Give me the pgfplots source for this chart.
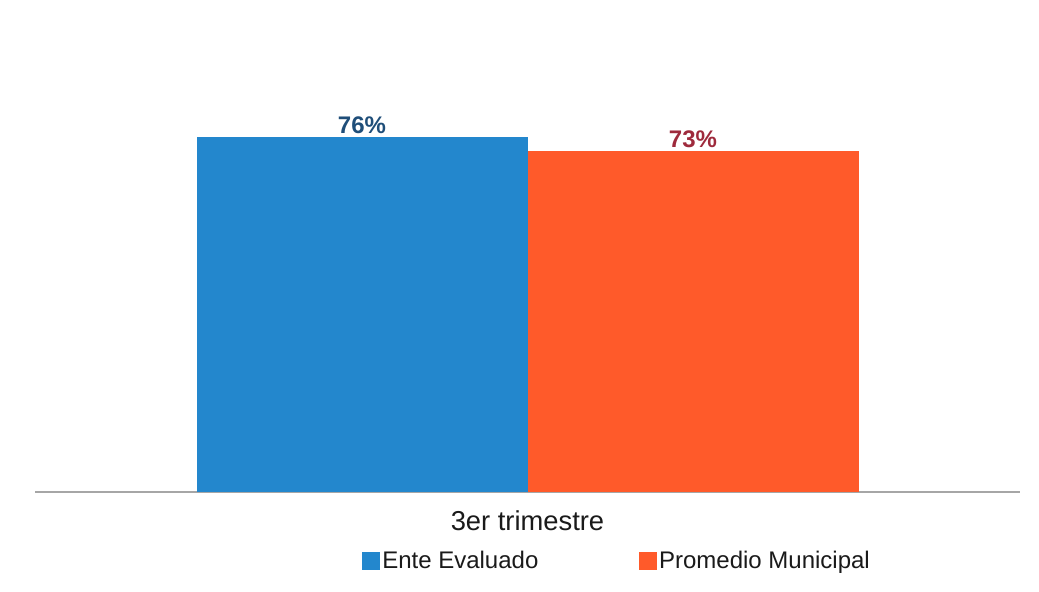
\documentclass[border=0pt]{standalone}
\usepackage{pgfplots}
\pgfplotsset{compat=1.18}
\usepackage{fontspec}
\setmainfont{Liberation Sans}
\definecolor{barblue}{HTML}{2387CD}
\definecolor{barorange}{HTML}{FF5A2A}
\definecolor{lblblue}{HTML}{1F4E79}
\definecolor{lblred}{HTML}{9E2A3C}
\definecolor{txt}{HTML}{1A1A1A}
\begin{document}
\begin{tikzpicture}
\path[use as bounding box, fill=white] (0,0) rectangle (779.25pt,444pt);
\begin{axis}[
  at={(26.25pt,75pt)}, anchor=south west,
  scale only axis, width=738.75pt, height=350.25pt,
  xmin=-1, xmax=1, ymin=0, ymax=100,
  axis y line=none,
  axis x line=bottom,
  x axis line style={draw=black!35, line width=1.1pt, -},
  xtick={0}, xticklabels={3er trimestre},
  major tick length=0pt,
  xticklabel style={font=\fontsize{20.5}{24}\selectfont, text=txt, anchor=base, yshift=-29pt},
  ybar, bar width=248.25pt,
  /pgf/number format/assume math mode=true,
  nodes near coords={\pgfmathprintnumber{\pgfplotspointmeta}\%},
  nodes near coords style={font=\bfseries\fontsize{18}{21}\selectfont, anchor=base, yshift=2.5pt, inner sep=0pt},
  legend columns=2,
  legend style={draw=none, fill=none, inner sep=0pt, at={(0.332,-0.148)}, anchor=west,
    font=\fontsize{18}{21}\selectfont, text=txt,
    nodes={inner sep=1.5pt},
    /tikz/every even column/.append style={column sep=74pt}},
  legend image code/.code={\fill[#1] (0pt,-7pt) rectangle (13.5pt,7pt);},
]
\addplot[fill=barblue, draw=none, bar shift=-124.125pt, nodes near coords style={text=lblblue}] coordinates {(0,76)};
\addplot[fill=barorange, draw=none, bar shift=124.125pt, nodes near coords style={text=lblred}] coordinates {(0,73)};
\legend{Ente Evaluado, Promedio Municipal}
\end{axis}
\end{tikzpicture}
\end{document}
